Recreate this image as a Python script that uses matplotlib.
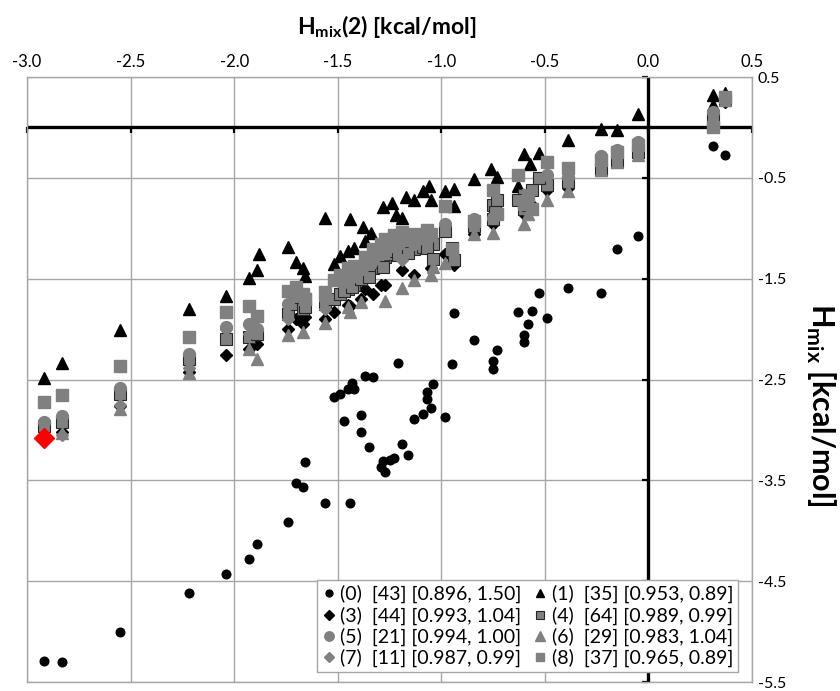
import numpy as np
import matplotlib
matplotlib.use('Agg')
import matplotlib.pyplot as plt

plt.rcParams['font.family'] = ['Lato', 'DejaVu Sans']
plt.rcParams['mathtext.fontset'] = 'custom'
plt.rcParams['mathtext.rm'] = 'Lato'
plt.rcParams['mathtext.bf'] = 'Lato:bold'

# (0) black circles
x0 = [-2.92, -2.83, -2.55, -2.22, -2.04, -1.93, -1.89, -1.74, -1.70, -1.67,
      -1.66, -1.56, -1.44, -1.52, -1.49, -1.45, -1.43, -1.42, -1.37, -1.33,
      -1.47, -1.39, -1.39, -1.35, -1.29, -1.28, -1.27, -1.25, -1.23, -1.19,
      -1.16, -1.21, -1.13, -1.09, -1.05, -1.07, -1.07, -1.04, -0.98, -0.94,
      -0.95, -0.84, -0.75, -0.75, -0.73, -0.60, -0.60, -0.58, -0.63, -0.56,
      -0.49, -0.53, -0.39, -0.23, -0.15, -0.05, 0.31, 0.37]
y0 = [-5.29, -5.30, -5.00, -4.62, -4.43, -4.28, -4.13, -3.91, -3.53, -3.57,
      -3.32, -3.72, -3.72, -2.67, -2.64, -2.59, -2.53, -2.59, -2.47, -2.48,
      -2.91, -2.85, -3.02, -3.17, -3.37, -3.31, -3.42, -3.30, -3.28, -3.14,
      -3.25, -2.34, -2.89, -2.84, -2.78, -2.69, -2.62, -2.54, -2.87, -1.84,
      -2.35, -2.11, -2.32, -2.40, -2.21, -2.13, -2.06, -1.95, -1.83, -1.82,
      -1.89, -1.64, -1.59, -1.64, -1.21, -1.08, -0.18, -0.27]

# (1) black triangles
x1 = [-2.92, -2.83, -2.55, -2.22, -2.04, -1.93, -1.89, -1.88, -1.74, -1.70,
      -1.67, -1.66, -1.56, -1.52, -1.49, -1.45, -1.44, -1.42, -1.38, -1.34,
      -1.37, -1.28, -1.24, -1.22, -1.19, -1.17, -1.13, -1.09, -1.06, -1.05,
      -0.98, -0.94, -0.94, -0.84, -0.76, -0.73, -0.60, -0.53, -0.57, -0.63,
      -0.39, -0.23, -0.15, -0.05, 0.31, 0.37, 0.31]
y1 = [-2.49, -2.34, -2.01, -1.80, -1.67, -1.49, -1.41, -1.26, -1.19, -1.33,
      -1.39, -1.47, -0.90, -1.35, -1.28, -1.23, -0.91, -1.20, -0.99, -1.05,
      -1.13, -0.79, -0.75, -0.87, -0.90, -0.69, -0.72, -0.63, -0.58, -0.72,
      -0.63, -0.61, -0.78, -0.51, -0.41, -0.49, -0.26, -0.25, -0.36, -0.58,
      -0.12, -0.02, -0.03, 0.13, 0.32, 0.34, 0.22]

# (3) black diamonds
x3 = [-2.92, -2.83, -2.55, -2.22, -2.04, -1.93, -1.89, -1.74, -1.70, -1.67,
      -1.66, -1.56, -1.44, -1.52, -1.45, -1.37, -1.33, -1.39, -1.29, -1.27,
      -1.19, -1.13, -1.05, -0.98, -0.94, -0.84, -0.75, -0.60, -0.56, -0.49,
      -0.39, -0.23, -0.15, -0.05, 0.31, 0.37]
y3 = [-3.06, -3.02, -2.76, -2.43, -2.26, -2.20, -2.15, -2.00, -1.90, -1.95,
      -1.88, -1.90, -1.77, -1.83, -1.76, -1.60, -1.65, -1.70, -1.56, -1.56,
      -1.41, -1.46, -1.39, -1.26, -1.36, -1.06, -0.96, -0.86, -0.77, -0.62,
      -0.60, -0.37, -0.27, -0.20, 0.05, 0.25]

# (4) grey squares with dark edge
x4 = [-2.92, -2.83, -2.55, -2.22, -2.04, -1.93, -1.89, -1.74, -1.70, -1.67,
      -1.66, -1.56, -1.44, -1.52, -1.49, -1.45, -1.42, -1.37, -1.33, -1.39,
      -1.35, -1.29, -1.27, -1.25, -1.23, -1.19, -1.16, -1.13, -1.09, -1.05,
      -1.04, -0.98, -0.94, -0.84, -0.75, -0.75, -0.73, -0.60, -0.60, -0.58,
      -0.63, -0.56, -0.49, -0.53, -0.39, -0.23, -0.15, -0.05, 0.31, 0.37,
      -1.47, -1.43, -1.39, -1.35, -1.28, -1.21, -1.16, -1.07, -1.04, -1.70,
      -1.66, -1.44, -0.95, -0.74]
y4 = [-2.96, -2.92, -2.64, -2.30, -2.10, -2.08, -2.05, -1.85, -1.75, -1.80,
      -1.70, -1.75, -1.51, -1.70, -1.65, -1.60, -1.56, -1.46, -1.39, -1.46,
      -1.41, -1.33, -1.29, -1.26, -1.23, -1.16, -1.11, -1.21, -1.19, -1.14,
      -1.16, -1.03, -1.31, -0.98, -0.77, -0.91, -0.72, -0.81, -0.67, -0.77,
      -0.72, -0.62, -0.57, -0.50, -0.54, -0.42, -0.34, -0.24, 0.08, 0.27,
      -1.62, -1.58, -1.50, -1.48, -1.38, -1.27, -1.25, -1.20, -1.30, -1.68,
      -1.78, -1.44, -1.20, -0.84]

# (5) grey circles
x5 = [-2.92, -2.83, -2.55, -2.22, -2.04, -1.93, -1.89, -1.74, -1.56, -1.44,
      -1.45, -1.37, -1.33, -1.29, -1.19, -1.13, -1.07, -0.98, -0.84, -0.75,
      -0.60, -0.49, -0.39, -0.23, -0.15, -0.05, 0.31, 0.37]
y5 = [-2.92, -2.86, -2.58, -2.25, -1.98, -1.95, -2.00, -1.75, -1.70, -1.46,
      -1.53, -1.36, -1.31, -1.26, -1.11, -1.16, -1.11, -0.96, -0.91, -0.90,
      -0.72, -0.47, -0.49, -0.28, -0.22, -0.14, 0.15, 0.29]

# (6) grey triangles
x6 = [-2.92, -2.83, -2.55, -2.22, -1.93, -1.89, -1.74, -1.67, -1.56, -1.44,
      -1.45, -1.39, -1.27, -1.19, -1.13, -1.05, -1.04, -0.98, -0.84, -0.75,
      -0.60, -0.58, -0.56, -0.49, -0.39, -0.23, -0.15, -0.05, 0.31, 0.37]
y6 = [-3.04, -3.03, -2.79, -2.44, -2.20, -2.30, -2.06, -2.03, -1.94, -1.83,
      -1.78, -1.73, -1.72, -1.59, -1.51, -1.46, -1.38, -1.34, -1.06, -1.05,
      -0.96, -0.86, -0.80, -0.72, -0.63, -0.42, -0.34, -0.27, 0.10, 0.27]

# (7) grey diamonds
x7 = [-2.92, -2.83, -2.55, -2.22, -2.04, -1.93, -1.74, -1.56, -1.19, -0.84, -0.23]
y7 = [-3.06, -3.05, -2.75, -2.39, -2.00, -2.05, -1.90, -1.80, -1.31, -0.96, -0.35]

# (8) grey squares
x8 = [-2.92, -2.83, -2.55, -2.22, -2.04, -1.93, -1.89, -1.74, -1.70, -1.67,
      -1.56, -1.52, -1.49, -1.45, -1.42, -1.37, -1.33, -1.29, -1.27, -1.23,
      -1.19, -1.13, -1.05, -0.98, -0.95, -0.84, -0.75, -0.73, -0.63, -0.60,
      -0.58, -0.56, -0.49, -0.39, -0.23, -0.15, -0.05, 0.31, 0.37,
      -1.47, -1.44, -1.43, -1.39, -1.35, -1.28, -1.25, -1.21, -1.16, -1.09,
      -1.07, -1.66]
y8 = [-2.72, -2.65, -2.37, -2.08, -1.83, -1.77, -1.87, -1.62, -1.58, -1.65,
      -1.63, -1.51, -1.46, -1.39, -1.37, -1.29, -1.21, -1.16, -1.11, -1.07,
      -1.04, -1.06, -1.06, -0.78, -1.21, -0.93, -0.62, -0.86, -0.47, -0.76,
      -0.67, -0.81, -0.34, -0.40, -0.32, -0.24, -0.17, 0.00, 0.30,
      -1.52, -1.42, -1.47, -1.40, -1.33, -1.25, -1.18, -1.15, -1.12, -1.10,
      -1.02, -1.70]

# highlighted point
x_red = [-2.92]
y_red = [-3.08]

labels = ['(0)  [43] [0.896, 1.50]', '(1)  [35] [0.953, 0.89]',
          '(3)  [44] [0.993, 1.04]', '(4)  [64] [0.989, 0.99]',
          '(5)  [21] [0.994, 1.00]', '(6)  [29] [0.983, 1.04]',
          '(7)  [11] [0.987, 0.99]', '(8)  [37] [0.965, 0.89]']

xticks = [-3.0, -2.5, -2.0, -1.5, -1.0, -0.5, 0.0, 0.5]
xticklabels = ['-3.0', '-2.5', '-2.0', '-1.5', '-1.0', '-0.5', '0.0', '0.5']
yticks = [0.5, -0.5, -1.5, -2.5, -3.5, -4.5, -5.5]
yticklabels = ['0.5', '-0.5', '-1.5', '-2.5', '-3.5', '-4.5', '-5.5']

grey = '#808080'
gridc = '#a6a6a6'

fig = plt.figure(figsize=(8.4, 6.91), dpi=100)
ax = fig.add_axes([27 / 840, 9 / 691, 725 / 840, 605 / 691])
ax.set_xlim(-3.0, 0.5)
ax.set_ylim(-5.5, 0.5)

ax.set_xticks(xticks)
ax.set_xticklabels(xticklabels)
ax.set_yticks(yticks)
ax.set_yticklabels(yticklabels)
ax.xaxis.tick_top()
ax.yaxis.tick_right()
ax.tick_params(axis='both', length=0)
ax.tick_params(axis='x', pad=5, labelsize=12)
ax.tick_params(axis='y', pad=4, labelsize=11.5)
ax.grid(True, color=gridc, lw=1.0)
ax.set_axisbelow(True)
for s in ax.spines.values():
    s.set_color(gridc)
    s.set_linewidth(1.0)

# axes through the origin, with their own small tick marks
ax.axhline(0, color='black', lw=2.4, zorder=1.5)
ax.axvline(0, color='black', lw=2.4, zorder=1.5)
ax.plot(xticks, np.zeros(len(xticks)), ls='none', marker=3, ms=4, mew=1.6,
        color='black', zorder=1.6, clip_on=False)
ax.plot(np.zeros(len(yticks)), yticks, ls='none', marker=0, ms=4, mew=1.6,
        color='black', zorder=1.6, clip_on=False)

h0, = ax.plot(x0, y0, ls='none', marker='o', ms=6.2, color='black', mec='black', zorder=2)
h1, = ax.plot(x1, y1, ls='none', marker='^', ms=8, color='black', mec='black', zorder=2)
h3, = ax.plot(x3, y3, ls='none', marker='D', ms=6, color='black', mec='black', zorder=2)
h4, = ax.plot(x4, y4, ls='none', marker='s', ms=8, color=grey, mec='#262626', mew=0.8, zorder=2)
h5, = ax.plot(x5, y5, ls='none', marker='o', ms=8.5, color=grey, mec=grey, zorder=2)
h6, = ax.plot(x6, y6, ls='none', marker='^', ms=8.5, color=grey, mec=grey, zorder=2)
h7, = ax.plot(x7, y7, ls='none', marker='D', ms=6.5, color=grey, mec=grey, zorder=2)
h8, = ax.plot(x8, y8, ls='none', marker='s', ms=8, color=grey, mec=grey, zorder=2)
ax.plot(x_red, y_red, ls='none', marker='D', ms=10, color='red', mec='red', zorder=3)

handles = [h0, h3, h5, h7, h1, h4, h6, h8]
leg_labels = [labels[i] for i in (0, 2, 4, 6, 1, 3, 5, 7)]
leg = ax.legend(handles, leg_labels, ncol=2, loc='lower right',
                bbox_to_anchor=(0.981, 0.0165), borderaxespad=0,
                fontsize=14, handlelength=0.7, handletextpad=0.25,
                columnspacing=0.6, labelspacing=0.15, borderpad=0.25,
                fancybox=False, framealpha=1, edgecolor=gridc, markerscale=0.8)
leg.get_frame().set_linewidth(1.0)

fig.text(387 / 840, 1 - 27 / 691, r'H$_\mathbf{mix}$(2) [kcal/mol]',
         ha='center', va='center', fontsize=16.5, fontweight='bold')
fig.text(821 / 840, 1 - 405 / 691, r'H$_\mathbf{mix}$ [kcal/mol]',
         ha='center', va='center', fontsize=22, fontweight='bold', rotation=-90)

fig.savefig('out.png', dpi=100)
